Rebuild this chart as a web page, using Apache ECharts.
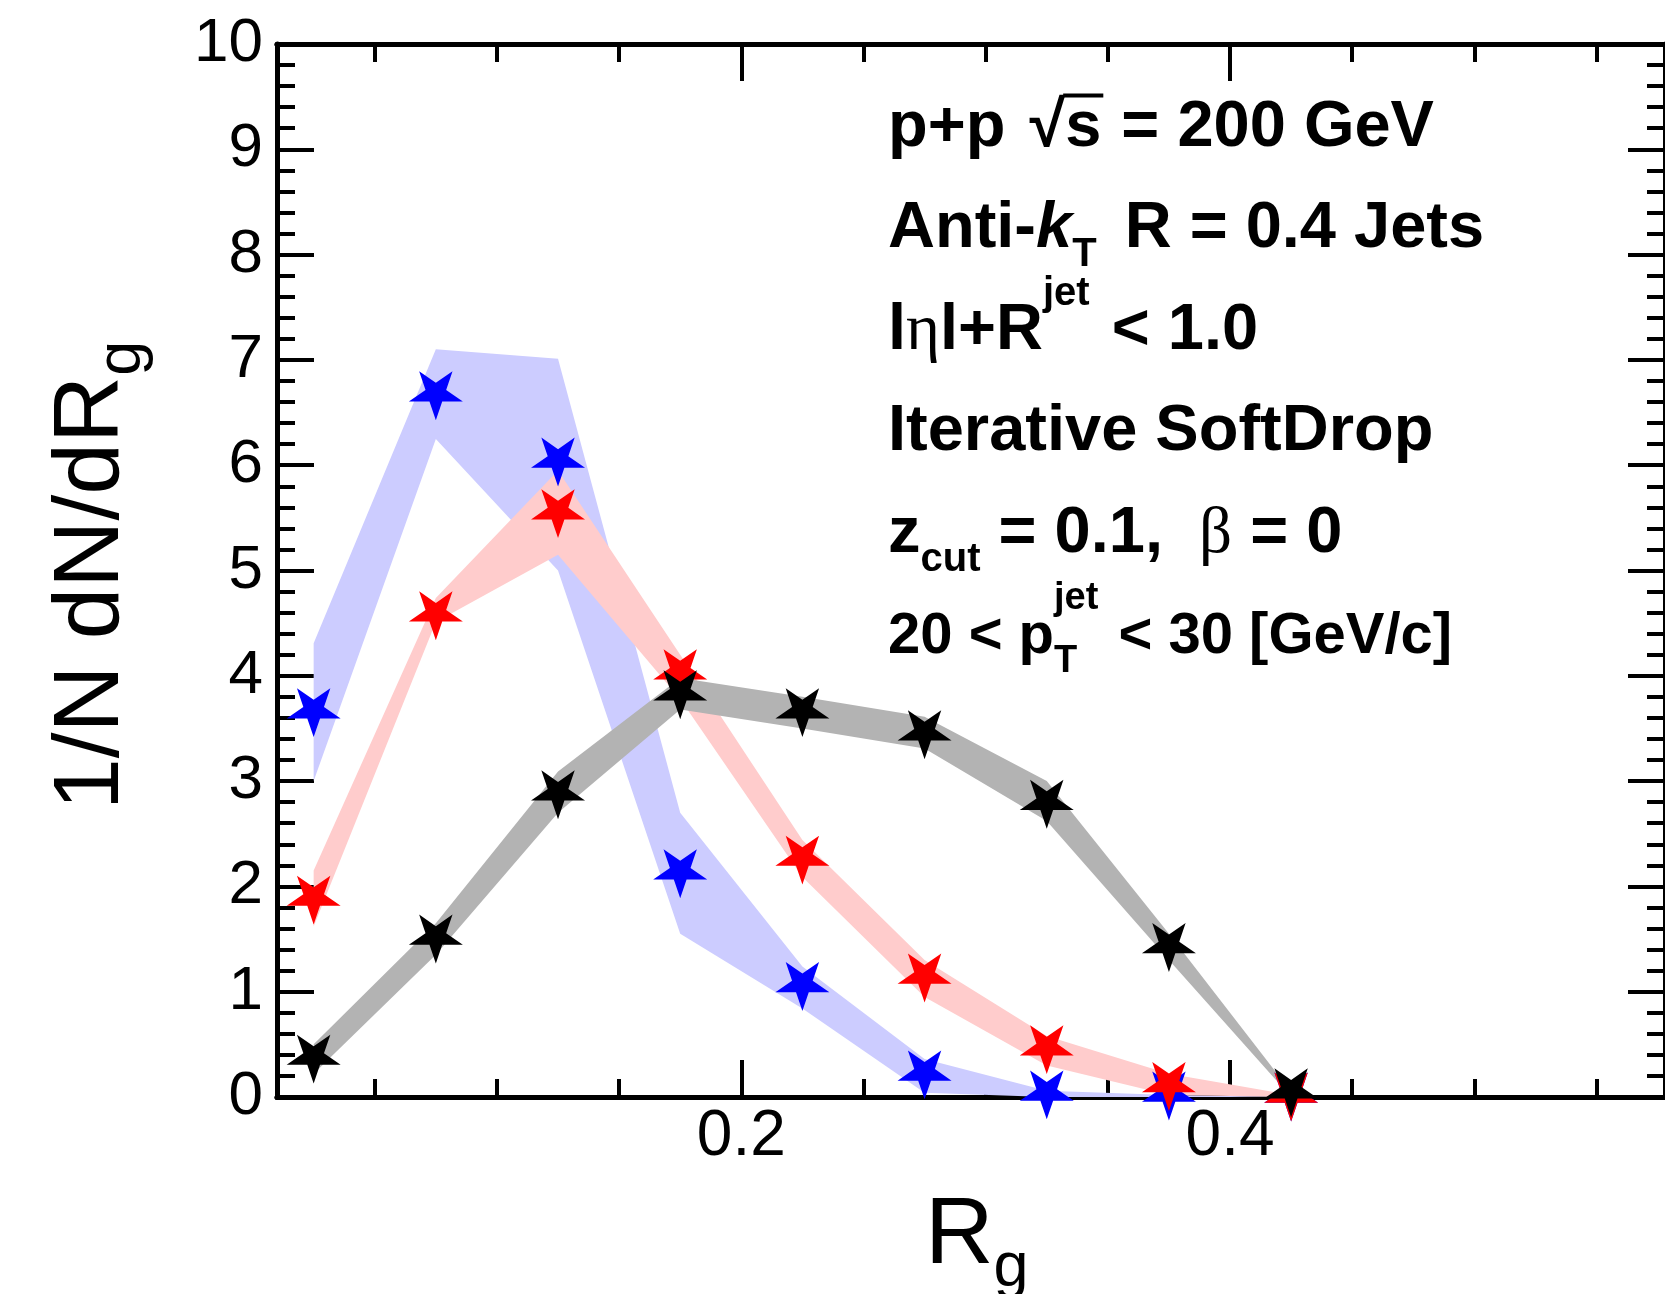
<!DOCTYPE html>
<html><head><meta charset="utf-8">
<script src="https://cdn.jsdelivr.net/npm/echarts@6/dist/echarts.min.js"></script>
<style>html,body{margin:0;padding:0;background:#fff}#c{width:1665px;height:1294px}</style>
</head><body><div id="c"></div>
<script>
// ---------------- data ----------------
const rgCenters = [0.025, 0.075, 0.125, 0.175, 0.225, 0.275, 0.325, 0.375, 0.425];

const blueVal = [3.65, 6.66, 6.03, 2.12, 1.05, 0.21, 0.02, 0.01, 0.0];
const blueLo  = [3.00, 6.25, 5.00, 1.55, 0.84, 0.04, 0.00, 0.00, 0.00];
const blueHi  = [4.31, 7.10, 7.01, 2.70, 1.24, 0.36, 0.06, 0.02, 0.00];

const redVal  = [1.87, 4.57, 5.54, 4.02, 2.25, 1.13, 0.45, 0.10, 0.00];
const redLo   = [1.62, 4.51, 5.15, 3.78, 2.09, 0.95, 0.30, 0.02, 0.00];
const redHi   = [2.15, 4.74, 5.95, 4.20, 2.44, 1.30, 0.58, 0.22, 0.02];

const blackVal = [0.36, 1.50, 2.87, 3.82, 3.65, 3.44, 2.78, 1.42, 0.04];
const blackLo  = [0.22, 1.35, 2.70, 3.68, 3.50, 3.31, 2.62, 1.30, 0.00];
const blackHi  = [0.50, 1.65, 3.09, 3.98, 3.80, 3.61, 3.00, 1.55, 0.05];

const xMajorTicks = [0.2, 0.4];
const xMinorTicks = [0.05, 0.1, 0.15, 0.25, 0.3, 0.35, 0.45, 0.5, 0.55];
const xRange = [0.01, 0.578];
const yRange = [0, 10];

// ---------------- helpers ----------------
const FAM = "'Liberation Sans', Arial, Helvetica, sans-serif";
const SERIF = "'Liberation Serif', 'DejaVu Serif', serif";
const mctx = document.createElement('canvas').getContext('2d');
function fontStr(r){ return (r.it?'italic ':'') + (r.b?'bold ':'normal ') + r.f + 'px ' + r.fam; }
function midOff(r){
  mctx.font = fontStr(r); mctx.textBaseline = 'middle';
  const m = mctx.measureText('H');
  let d = m.alphabeticBaseline;
  if (typeof d !== 'number' || !isFinite(d) || d === 0) d = 0.35 * r.f;
  return Math.abs(d);
}
function widthOf(r){ mctx.font = fontStr(r); return mctx.measureText(r.t).width; }

function buildRuns(runs, x0, base, defaults){
  const els = []; let cx = x0; let hold = null;
  runs.forEach(rr => {
    const r = Object.assign({f: defaults.f, b: defaults.b, fam: FAM, it:false, dy:0, dx:0}, rr);
    let xx;
    if (hold) { xx = hold.x; } else { xx = cx + r.dx; }
    const w = widthOf(r);
    const y = base + r.dy - midOff(r);
    els.push({type:'text', x: xx, y: y, silent:true, z: 100,
      style:{text:r.t, fontSize:r.f, fontWeight:r.b?'bold':'normal', fontStyle:r.it?'italic':'normal',
             fontFamily:r.fam, fill:'#000', align:'left', verticalAlign:'middle'}});
    if (r.over) {
      els.push({type:'rect', silent:true, z:100, shape:{x: xx - 2, y: base - 0.80*r.f, width: w + 4, height: 4}, style:{fill:'#000'}});
    }
    if (r.hold) { hold = {x: xx, w: w}; }
    else if (hold) { cx = hold.x + Math.max(hold.w, w); hold = null; }
    else { cx = xx + w; }
  });
  return els;
}

// star path (pointing downwards, as in the reference)
function starPath(){
  const pts = [];
  for (let k = 0; k < 10; k++){
    const a = (90 + k*36) * Math.PI/180;
    const rr = (k % 2 === 0) ? 1 : 0.382;
    pts.push((rr*Math.cos(a)).toFixed(4) + ',' + (rr*Math.sin(a)).toFixed(4));
  }
  return 'path://M' + pts.join(' L') + ' Z';
}
const STAR = starPath();

function bandSeries(lo, hi, color){
  return {
    type:'custom', xAxisIndex:0, yAxisIndex:0, silent:true, clip:true,
    data: rgCenters.map((x,i)=>[x, lo[i], hi[i]]),
    encode:{x:0, y:[1,2]},
    renderItem: function(params, api){
      if (params.dataIndex !== 0) return null;
      const pts = [];
      for (let i = 0; i < rgCenters.length; i++) pts.push(api.coord([rgCenters[i], hi[i]]));
      for (let i = rgCenters.length-1; i >= 0; i--) pts.push(api.coord([rgCenters[i], lo[i]]));
      return {type:'polygon', shape:{points:pts}, style:{fill:color, stroke:null}};
    }
  };
}
function starSeries(vals, color){
  return {
    type:'scatter', xAxisIndex:0, yAxisIndex:0, silent:true, clip:false,
    symbol: STAR, symbolSize:[54, 51.4], symbolKeepAspect:true,
    itemStyle:{color:color, opacity:1},
    data: rgCenters.map((x,i)=>[x, vals[i]])
  };
}

const LW = 5, TW = 4, MAJ = 37, MIN = 18;
function xAx(pos, ticks, len, labels){
  return {
    type:'value', position:pos, min:xRange[0], max:xRange[1], gridIndex:0,
    axisLine:{show:true, onZero:false, lineStyle:{color:'#000', width:LW}},
    axisTick:{show:true, inside:true, length:len, customValues:ticks, lineStyle:{color:'#000', width:TW}},
    axisLabel:{show:labels, customValues:ticks, fontSize:64, fontFamily:FAM, color:'#000', margin:8,
               formatter:(v)=>v.toFixed(1)},
    splitLine:{show:false}, minorTick:{show:false}
  };
}
function yAx(pos, labels){
  return {
    type:'value', position:pos, min:yRange[0], max:yRange[1], interval:1, gridIndex:0,
    axisLine:{show:true, onZero:false, lineStyle:{color:'#000', width:LW}},
    axisTick:{show:true, inside:true, length:MAJ, lineStyle:{color:'#000', width:TW}},
    minorTick:{show:true, splitNumber:5, length:MIN, lineStyle:{color:'#000', width:TW}},
    axisLabel:{show:labels, fontSize:62, fontFamily:FAM, color:'#000', margin:14},
    splitLine:{show:false}, minorSplitLine:{show:false}
  };
}

// ---------------- annotations ----------------
const B0 = 145.5, STEP = 101.5, AX = 888, AF = 65;
let graphics = [];
const lines = [
  [{t:'p+p  '}, {t:'\u221A', dx:-12}, {t:'s', over:true}, {t:' = 200 GeV', dx:2}],
  [{t:'Anti-'}, {t:'k', it:true}, {t:'T', f:40, dy:19}, {t:' R = 0.4 Jets', dx:10}],
  [{t:'l'}, {t:'\u03B7', fam:SERIF, b:false}, {t:'l+R'}, {t:'jet', f:40, dy:-44}, {t:' < 1.0', dx:4}],
  [{t:'Iterative SoftDrop'}],
  [{t:'z'}, {t:'cut', f:40, dy:19}, {t:' = 0.1,  '}, {t:'\u03B2', fam:SERIF, b:false}, {t:' = 0'}],
  [{t:'20 < p', f:58}, {t:'jet', f:38, dy:-44, hold:true}, {t:'T', f:38, dy:19}, {t:' < 30 [GeV/c]', f:58, dx:4}]
];
lines.forEach((ln, i) => { graphics = graphics.concat(buildRuns(ln, AX, B0 + i*STEP, {f:AF, b:true})); });

// x-axis title
graphics = graphics.concat(buildRuns([{t:'R', f:95}, {t:'g', f:63, dy:23}], 925, 1263, {f:95, b:false}));
// y-axis title (rotated)
graphics.push({type:'group', x:118, y:810, rotation:Math.PI/2,
  children: buildRuns([{t:'1/N dN/dR', f:93}, {t:'g', f:63, dy:22}], 0, 0, {f:93, b:false})});

// ---------------- chart ----------------
const chart = echarts.init(document.getElementById('c'), null, {renderer:'canvas'});
chart.setOption({
  backgroundColor:'#ffffff',
  animation:false,
  grid:{left:277, top:44, width:1398, height:1053, containLabel:false},
  xAxis:[ xAx('bottom', xMajorTicks, MAJ, true), xAx('bottom', xMinorTicks, MIN, false),
          xAx('top', xMajorTicks, MAJ, false), xAx('top', xMinorTicks, MIN, false) ],
  yAxis:[ yAx('left', true), yAx('right', false) ],
  series:[
    bandSeries(blueLo, blueHi, '#ccccff'),
    bandSeries(redLo, redHi, '#ffcccc'),
    bandSeries(blackLo, blackHi, '#b3b3b3'),
    starSeries(blueVal, '#0000ff'),
    starSeries(redVal, '#ff0000'),
    starSeries(blackVal, '#000000')
  ],
  graphic: graphics
});
</script>
</body></html>
